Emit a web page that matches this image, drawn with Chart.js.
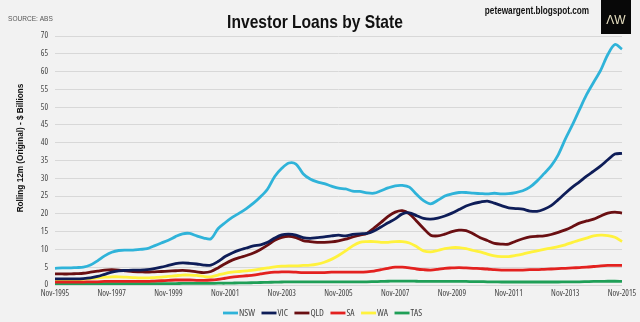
<!DOCTYPE html>
<html>
<head>
<meta charset="utf-8">
<script src="https://cdn.jsdelivr.net/npm/chart.js@4"></script>
<style>
  html, body { margin: 0; padding: 0; background: #f2f2f2; }
  #wrap { width: 640px; height: 322px; }
</style>
</head>
<body>
<div id="wrap"><canvas id="chart1" width="640" height="322"></canvas></div>
<script>
// quarterly points, Nov-1995 .. Nov-2015, rolling 12m investor loans ($bn)
const tickLabels = ['Nov-1995', 'Nov-1997', 'Nov-1999', 'Nov-2001', 'Nov-2003', 'Nov-2005',
    'Nov-2007', 'Nov-2009', 'Nov-2011', 'Nov-2013', 'Nov-2015']

const states = ['NSW', 'VIC', 'QLD', 'SA', 'WA', 'TAS']

const nsw = [
    4.7, 4.8, 4.8, 4.9,   5.0, 5.6, 6.8, 8.2,   9.2, 9.7, 9.8, 9.8,
    10.0, 10.2, 11.0, 11.8,   12.6, 13.6, 14.4, 14.5,   13.8, 13.2, 13.0, 15.8,
    17.5, 19.0, 20.2, 21.5,   23.0, 24.8, 27.0, 30.5,   32.8, 34.3, 34.0, 31.3,
    29.8, 29.0, 28.5, 27.8,   27.2, 27.0, 26.4, 26.3,   25.9, 25.8, 26.5, 27.3,
    27.9, 28.0, 27.5, 25.5,   23.7, 22.8, 23.8, 25.0,   25.6, 26.0, 26.0, 25.8,
    25.7, 25.6, 25.8, 25.6,   25.7, 26.0, 26.5, 27.5,   29.2, 31.3, 33.5, 36.6,
    41.0, 45.0, 49.3, 53.5,   57.0, 60.4, 64.8, 67.6,   66.3
]
const vic = [
    1.7, 1.7, 1.7, 1.7,   1.8, 2.0, 2.4, 3.0,   3.6, 4.0, 4.1, 4.2,
    4.2, 4.3, 4.6, 5.0,   5.5, 6.0, 6.2, 6.1,   5.9, 5.6, 5.6, 6.6,
    8.0, 9.0, 9.8, 10.4,   11.0, 11.3, 12.0, 13.2,   14.1, 14.3, 14.0, 13.3,
    13.1, 13.3, 13.5, 13.8,   14.0, 13.8, 14.2, 14.4,   14.5, 15.2, 16.3, 17.5,
    18.6, 20.0, 20.3, 19.5,   18.7, 18.5, 18.8, 19.4,   20.2, 21.2, 22.2, 22.9,
    23.3, 23.6, 23.0, 22.3,   21.7, 21.5, 21.3, 20.8,   20.7, 21.3, 22.3, 24.0,
    25.8, 27.5, 29.0, 30.6,   32.0, 33.5, 35.2, 36.8,   37.0
]
const qld = [
    3.1, 3.1, 3.1, 3.2,   3.3, 3.6, 3.9, 4.2,   4.3, 4.2, 4.0, 3.8,
    3.7, 3.6, 3.7, 3.8,   3.9, 4.0, 4.1, 4.0,   3.7, 3.5, 3.8, 4.8,
    6.0, 7.0, 7.7, 8.3,   9.0, 10.0, 11.2, 12.6,   13.4, 13.7, 13.3, 12.5,
    12.2, 12.0, 12.0, 12.1,   12.4, 12.9, 13.5, 14.0,   14.5, 16.0, 17.6, 19.3,
    20.5, 20.9, 20.0, 18.0,   15.9, 14.0, 13.8, 14.3,   15.0, 15.4, 15.3, 14.4,
    13.3, 12.5, 11.7, 11.5,   11.5, 12.3, 13.0, 13.5,   13.7, 13.8, 14.2, 14.8,
    15.5, 16.4, 17.4, 18.0,   18.5, 19.4, 20.2, 20.5,   20.2
]
const sa = [
    0.8, 0.8, 0.8, 0.8,   0.8, 0.9, 0.9, 1.0,   1.0, 1.0, 1.0, 1.0,
    1.0, 1.0, 1.1, 1.2,   1.3, 1.4, 1.4, 1.4,   1.3, 1.3, 1.4, 1.6,
    1.9, 2.2, 2.4, 2.6,   2.8, 3.1, 3.4, 3.6,   3.7, 3.7, 3.6, 3.5,
    3.5, 3.5, 3.5, 3.6,   3.6, 3.6, 3.6, 3.6,   3.7, 3.9, 4.3, 4.7,
    5.0, 5.0, 4.8, 4.5,   4.3, 4.2, 4.4, 4.7,   4.8, 4.9, 4.8, 4.7,
    4.6, 4.5, 4.3, 4.2,   4.2, 4.2, 4.2, 4.3,   4.3, 4.4, 4.5, 4.6,
    4.7, 4.8, 4.9, 5.0,   5.2, 5.4, 5.5, 5.5,   5.5
]
const wa = [
    1.3, 1.3, 1.4, 1.5,   1.6, 1.8, 2.0, 2.2,   2.3, 2.3, 2.2, 2.1,
    2.0, 2.0, 2.1, 2.2,   2.4, 2.6, 2.8, 2.8,   2.7, 2.4, 2.3, 2.8,
    3.3, 3.6, 3.8, 4.0,   4.2, 4.5, 4.8, 5.1,   5.3, 5.4, 5.4, 5.5,
    5.6, 5.9, 6.4, 7.2,   8.3, 9.6, 11.0, 12.0,   12.2, 12.2, 12.0, 12.0,
    12.2, 12.2, 11.8, 10.8,   9.6, 9.3, 9.7, 10.2,   10.5, 10.5, 10.2, 9.7,
    9.3, 8.7, 8.2, 8.0,   8.0, 8.3, 8.7, 9.2,   9.6, 10.0, 10.4, 10.8,
    11.3, 12.0, 12.6, 13.2,   13.8, 14.0, 13.9, 13.4,   12.2
]
const tas = [
    0.3, 0.3, 0.3, 0.3,   0.3, 0.3, 0.3, 0.35,   0.35, 0.35, 0.35, 0.35,
    0.35, 0.35, 0.35, 0.4,   0.4, 0.4, 0.45, 0.45,   0.45, 0.45, 0.45, 0.5,
    0.5, 0.55, 0.6, 0.6,   0.65, 0.7, 0.75, 0.8,   0.85, 0.9, 0.9, 0.9,
    0.9, 0.9, 0.9, 0.9,   0.9, 0.9, 0.9, 0.9,   0.9, 0.95, 1.0, 1.05,
    1.1, 1.1, 1.1, 1.05,   1.0, 1.0, 1.0, 1.0,   1.0, 1.0, 1.0, 0.95,
    0.95, 0.9, 0.9, 0.85,   0.85, 0.85, 0.85, 0.85,   0.85, 0.85, 0.85, 0.85,
    0.9, 0.9, 0.9, 0.95,   1.0, 1.0, 1.05, 1.05,   1.0
]

const colors = ['#2fb3d9', '#0e1d58', '#6a0f12', '#e3211f', '#fff23d', '#1f9f57']

// quarters run Nov, Feb, May, Aug
const months = ['Nov', 'Feb', 'May', 'Aug']
const labels = []
for (let i = 0; i < nsw.length; i++) {
    const y = i % 4 === 0 ? 1995 + i / 4 : 1996 + Math.floor(i / 4)
    labels.push(months[i % 4] + '-' + y)
}

const sans = "'Liberation Sans', Arial, sans-serif"
const cond = "'Open Sans', sans-serif"

// squeeze regular Arial horizontally for the narrow header lettering
function narrowText(ctx, text, x, y, font, align, color) {
    ctx.save()
    ctx.font = font
    ctx.fillStyle = color
    ctx.textAlign = align
    ctx.translate(x, y)
    ctx.scale(0.82, 1)
    ctx.fillText(text, 0, 0)
    ctx.restore()
}

const header = {
    id: 'header',
    afterDraw(chart) {
        const ctx = chart.ctx
        ctx.save()
        ctx.textBaseline = 'alphabetic'

        narrowText(ctx, 'SOURCE: ABS', 8, 21, '8px ' + sans, 'left', '#555')
        narrowText(ctx, 'Investor Loans by State', 315, 28, 'bold 19px ' + sans, 'center', '#111')
        narrowText(ctx, 'petewargent.blogspot.com', 537, 14, 'bold 10px ' + sans, 'center', '#111')

        // logo box
        ctx.fillStyle = '#080808'
        ctx.fillRect(601, 0, 30, 34)
        ctx.fillStyle = '#e6dfc0'
        ctx.font = '12px ' + sans
        ctx.textAlign = 'center'
        ctx.textBaseline = 'middle'
        ctx.fillText('ΛW', 616, 21)

        // y axis title
        ctx.save()
        ctx.translate(21, 148)
        ctx.rotate(-Math.PI / 2)
        ctx.font = 'bold 8.2px ' + sans
        ctx.fillStyle = '#111'
        ctx.fillText('Rolling 12m (Original) - $ Billions', 0, 0)
        ctx.restore()

        // legend: short line then name
        let x = 223
        const ly = 313
        ctx.font = 'condensed 9.5px ' + cond
        ctx.textAlign = 'left'
        chart.data.datasets.forEach(ds => {
            ctx.strokeStyle = ds.borderColor
            ctx.lineWidth = 2.8
            ctx.beginPath()
            ctx.moveTo(x, ly)
            ctx.lineTo(x + 15, ly)
            ctx.stroke()
            ctx.fillStyle = '#444'
            ctx.fillText(ds.label, x + 16, ly + 0.5)
            x += 15 + 1 + ctx.measureText(ds.label).width + 6.5
        })
        ctx.restore()
    }
}

const seriesData = [nsw, vic, qld, sa, wa, tas]

const data = {
    labels,
    datasets: states.map((name, i) => ({
        label: name,
        data: seriesData[i],
        borderColor: colors[i],
        backgroundColor: colors[i],
        borderWidth: 2.8,
        pointRadius: 0,
        tension: 0.3
    }))
}

// "condensed" goes in the weight slot so it ends up in the canvas font string
const tickFont = { size: 8.5, weight: 'condensed', family: cond }

const options = {
    responsive: false,
    animation: false,
    layout: { padding: { top: 36, right: 18, left: 0, bottom: 0 } },
    plugins: {
        legend: { display: false },
        tooltip: { enabled: false }
    },
    scales: {
        x: {
            grid: { display: false, drawTicks: false },
            border: { display: false },
            ticks: {
                autoSkip: false,
                maxRotation: 0,
                padding: 3,
                color: '#444',
                font: tickFont,
                callback: (v, i) => tickLabels.includes(labels[i]) ? labels[i] : null
            },
            afterFit: s => { s.height = 37 }
        },
        y: {
            min: 0,
            max: 70,
            ticks: { stepSize: 5, padding: 7, color: '#444', font: tickFont },
            grid: { color: '#d8d8d8', drawTicks: false },
            border: { display: false },
            afterFit: s => { s.width = 55 }
        }
    }
}

new Chart('chart1', { type: 'line', data, options, plugins: [header] })
</script>
</body>
</html>
